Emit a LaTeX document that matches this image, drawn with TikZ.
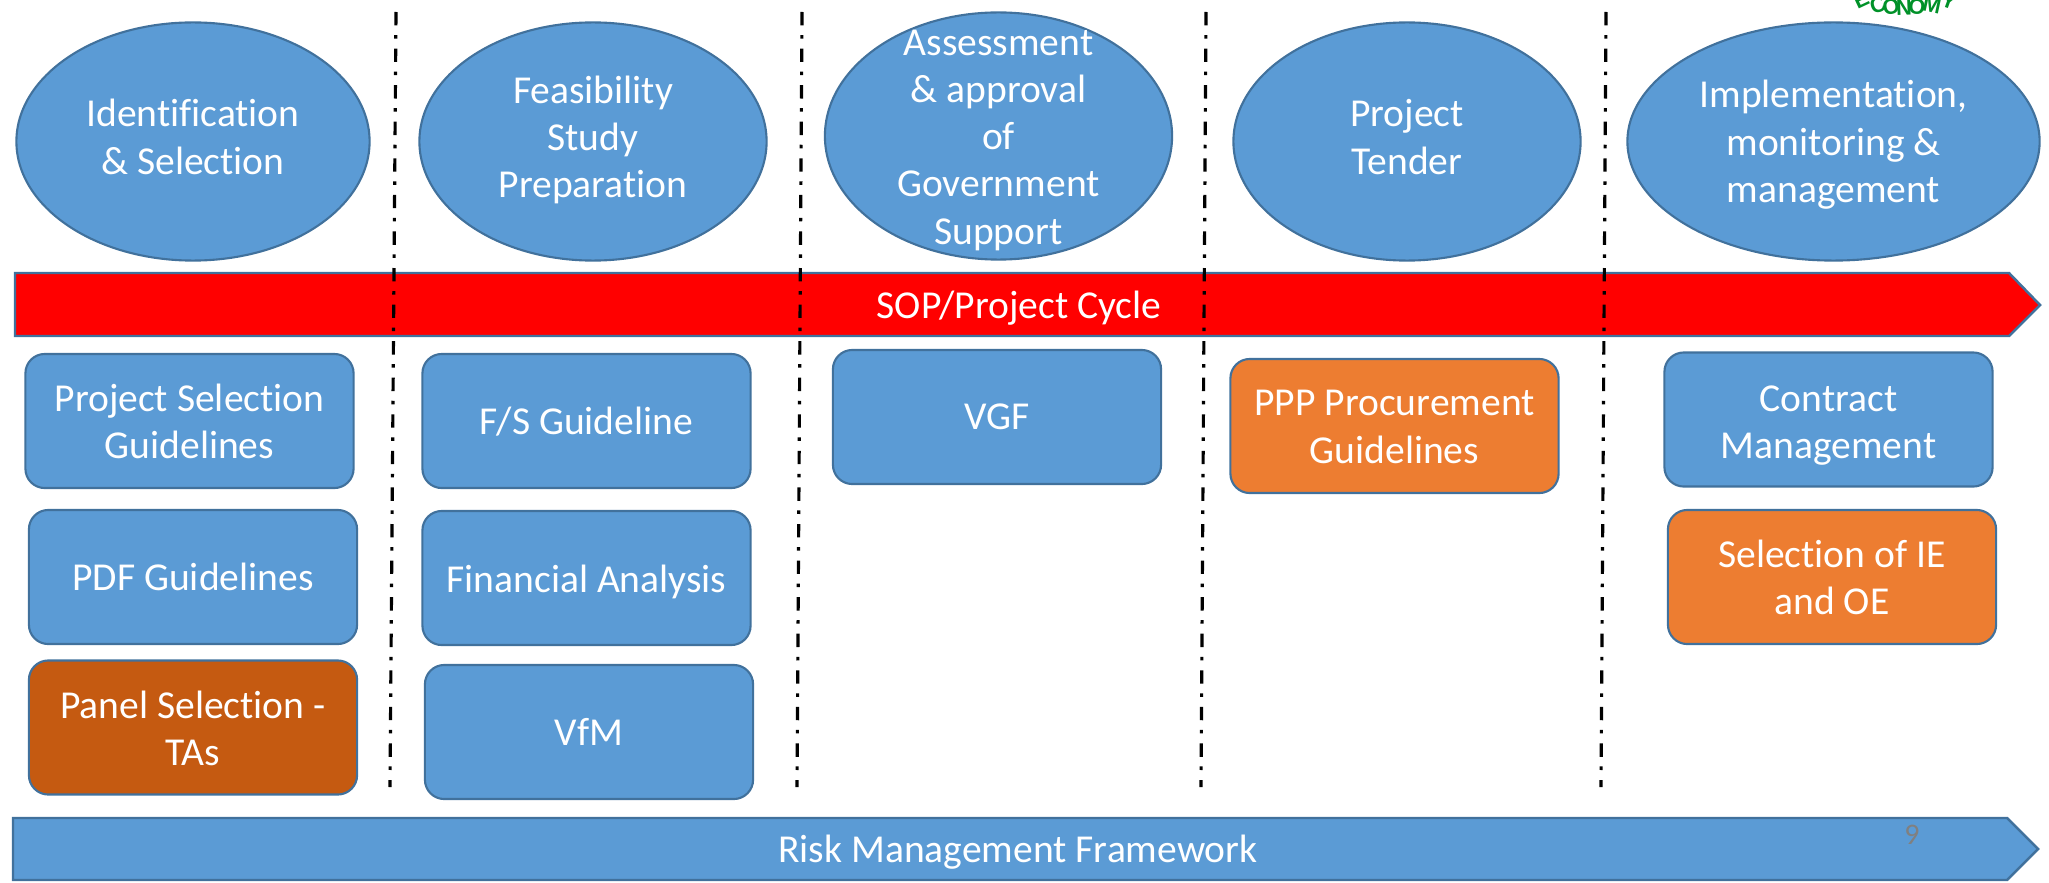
\documentclass[tikz,border=0pt]{standalone}
\usepackage{fontspec}
\setmainfont{Carlito}[Ligatures=NoCommon]
\newfontfamily\logofont{Liberation Sans}
\usetikzlibrary{shapes.geometric}
\definecolor{cellblue}{RGB}{91,155,213}
\definecolor{celledge}{RGB}{65,113,156}
\definecolor{cellorange}{RGB}{237,125,49}
\definecolor{cellbrown}{RGB}{197,90,17}
\definecolor{logogreen}{RGB}{0,145,40}
% text lifted inside its shape, takes no room of its own
\newcommand{\lifted}[2]{\raisebox{#1}[0pt][0pt]{\begin{tabular}{@{}c@{}}#2\end{tabular}}}
\tikzset{
    stage/.style={draw=celledge,line width=0.6pt,fill=cellblue,ellipse,inner sep=0pt,text=white,font=\fontsize{11.25}{13.4}\selectfont},
    guide/.style={draw=celledge,line width=0.6pt,fill=cellblue,rounded corners=5.5pt,minimum width=3.28cm,minimum height=1.34cm,inner sep=0pt,text=white,font=\fontsize{11.25}{13.4}\selectfont},
    divider/.style={draw=black,line width=0.9pt,dash pattern=on 3.8pt off 2.75pt on 1pt off 2.85pt},
    banner/.style={draw=celledge,line width=0.7pt},
    bannertext/.style={text=white,inner sep=0pt,font=\fontsize{11.25}{13.4}\selectfont},
    logoletter/.style={text=logogreen,inner sep=0pt,font=\fontsize{6.2}{7}\selectfont\bfseries\logofont},
}
\begin{document}
\begin{tikzpicture}[x=0.01cm,y=-0.01cm]
    \useasboundingbox (0,0) rectangle (2049,882);

    \node[stage,minimum width=3.53cm,minimum height=2.38cm] (identify) at (193,141.5) {\lifted{-2.6pt}{Identification\\\& Selection}};
    \node[stage,minimum width=3.47cm,minimum height=2.38cm] (feasible) at (593,141.5) {\lifted{-2.7pt}{Feasibility\\Study\\Preparation}};
    \node[stage,minimum width=3.47cm,minimum height=2.47cm] (assess) at (998.5,136) {\lifted{-4pt}{Assessment\\\& approval\\of\\Government\\Support}};
    \node[stage,minimum width=3.47cm,minimum height=2.38cm] (tender) at (1407,141.5) {\lifted{-2.6pt}{Project\\Tender}};
    \node[stage,minimum width=4.12cm,minimum height=2.38cm] (implement) at (1833.5,141.5) {\lifted{-3.9pt}{Implementation,\\monitoring \&\\management}};

    % arrows
    \path[banner,fill=red] (15,273) -- (2009,273) -- (2040,305) -- (2009,336) -- (15,336) -- cycle;
    \node[bannertext] (cycle) at (1019,308) {SOP/Project Cycle};
    \path[banner,fill=cellblue] (13,818) -- (2007,818) -- (2038,849) -- (2007,880) -- (13,880) -- cycle;
    \node[bannertext] (risk) at (1018,852) {Risk Management Framework};
    \node[text=gray,inner sep=0pt,font=\fontsize{8.5}{10}\selectfont] (page) at (1912,835) {9};

    \node[guide] (select) at (189.5,421) {\lifted{-4.1pt}{Project Selection\\Guidelines}};
    \node[guide] (pdf) at (193,577) {PDF Guidelines};
    \node[guide,fill=cellbrown] (panel) at (193,727.5) {\lifted{-4.1pt}{Panel Selection -\\TAs}};

    \node[guide] (fs) at (586.5,421) {\lifted{-4pt}{F/S Guideline}};
    \node[guide] (finance) at (586.5,578) {\lifted{-4.2pt}{Financial Analysis}};
    \node[guide] (vfm) at (589,732) {VfM};

    \node[guide] (vgf) at (997,417) {VGF};
    \node[guide,fill=cellorange] (procure) at (1394.5,426) {\lifted{-3.9pt}{PPP Procurement\\Guidelines}};
    \node[guide] (contract) at (1828.5,419.5) {\lifted{-4.4pt}{Contract\\Management}};
    \node[guide,fill=cellorange] (ieoe) at (1832,577) {\lifted{-4pt}{Selection of IE\\and OE}};

    \coordinate (top1) at (396,12);
    \coordinate (bot1) at (390,787);
    \coordinate (top2) at (802,12);
    \coordinate (bot2) at (797,787);
    \coordinate (top3) at (1206,12);
    \coordinate (bot3) at (1201,787);
    \coordinate (top4) at (1606,12);
    \coordinate (bot4) at (1601,787);

    \path[divider] (top1) -- (bot1);
    \path[divider] (top2) -- (bot2);
    \path[divider] (top3) -- (bot3);
    \path[divider] (top4) -- (bot4);

    % logo
    \node[logoletter,rotate=25] (logoe) at (1861,0) {E};
    \node[logoletter,rotate=17] (logoc) at (1878,5) {C};
    \node[logoletter,rotate=9] (logoo) at (1891,7) {O};
    \node[logoletter,rotate=2] (logon) at (1904,8) {N};
    \node[logoletter,rotate=-5] (logoo2) at (1917,7) {O};
    \node[logoletter,rotate=-12] (logom) at (1932,5) {M};
    \node[logoletter,rotate=-20] (logoy) at (1949,1) {Y};
\end{tikzpicture}
\end{document}
